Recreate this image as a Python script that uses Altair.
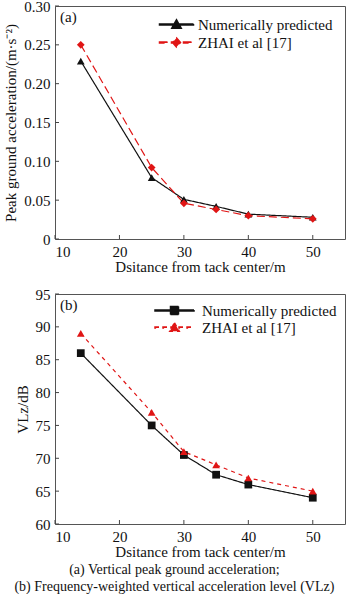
import altair as alt
import pandas as pd

dist = [14, 25, 30, 35, 40, 50]
pga_num = [0.229, 0.079, 0.051, 0.042, 0.032, 0.028]
pga_zhai = [0.250, 0.092, 0.046, 0.038, 0.030, 0.026]
vlz_num = [86, 75, 70.5, 67.5, 66, 64]
vlz_zhai = [89, 77, 71, 69, 67, 65]
series = ["Numerically predicted", "ZHAI et al [17]"]
x_ticks = [10, 20, 30, 40, 50]
pga_ticks = [0, 0.05, 0.10, 0.15, 0.20, 0.25, 0.30]
vlz_ticks = [60, 65, 70, 75, 80, 85, 90, 95]
caption = ["(a)  Vertical peak    ground    acceleration;",
           "(b)    Frequency-weighted vertical acceleration level (VLz)"]

FONT = "Liberation Serif"
COLORS = ["#111111", "#e01515"]
W = 290
UNIT = 5.0  # legend glyph: px per path unit (symbolSize 100)


def long_df(a, b):
    return pd.DataFrame({
        "dist": dist * 2,
        "val": a + b,
        "series": [series[0]] * len(dist) + [series[1]] * len(dist),
    })


def glyph(marker, half, dash=None, t=0.11):
    """Legend glyph: a line (as thin filled rectangles) plus a filled marker."""
    segs = []
    if dash is None:
        segs.append((-half, half))
    else:
        d, g = dash[0] / UNIT, dash[1] / UNIT
        x = -half
        while x < half:
            segs.append((x, min(x + d, half)))
            x += d + g
    p = " ".join(f"M{a:.2f},{-t} L{b:.2f},{-t} L{b:.2f},{t} L{a:.2f},{t} Z" for a, b in segs)
    return p + " " + marker


TRI = "M0,-0.95 L0.95,0.75 L-0.95,0.75 Z"
DIA = "M0,-0.9 L0.8,0 L0,0.9 L-0.8,0 Z"
SQR = "M-0.8,-0.8 L0.8,-0.8 L0.8,0.8 L-0.8,0.8 Z"


def panel(df, ydom, yticks, ytitle, yexpr, shapes, paths, dashes, letter,
          H, legx, legy, laboff, rowpad):
    xs = alt.Scale(domain=[10, 55], nice=False)
    ys = alt.Scale(domain=ydom, nice=False, zero=False)
    xaxis = alt.Axis(values=x_ticks, title="Dsitance from tack center/m",
                     ticks=False, tickSize=0, domain=False, grid=False,
                     labelPadding=5, titlePadding=0)
    yaxis = alt.Axis(values=yticks, title=ytitle, ticks=False, tickSize=0,
                     domain=False, grid=False, labelPadding=5, titlePadding=5,
                     labelExpr=yexpr)
    X = alt.X("dist:Q", scale=xs, axis=xaxis)
    Y = alt.Y("val:Q", scale=ys, axis=yaxis)
    cscale = alt.Scale(domain=series, range=COLORS)
    dscale = alt.Scale(domain=series, range=dashes)
    leg = alt.Legend(title=None, orient="none", legendX=legx, legendY=legy,
                     symbolSize=100, labelOffset=laboff,
                     labelFontSize=15, labelFont=FONT, labelColor="#111",
                     rowPadding=rowpad, padding=0)
    base = alt.Chart(df).encode(x=X, y=Y)
    lines = base.mark_line(strokeWidth=1.2).encode(
        color=alt.Color("series:N", scale=cscale, legend=leg),
        strokeDash=alt.StrokeDash("series:N", scale=dscale, legend=None),
    )
    pts = [
        base.transform_filter(alt.datum.series == s).mark_point(
            filled=True, opacity=1, size=60, shape=shp
        ).encode(color=alt.Color("series:N", scale=cscale, legend=leg))
        for s, shp in zip(series, shapes)
    ]
    legdf = pd.DataFrame({"series": series})
    legend_layer = alt.Chart(legdf).mark_point(filled=True, opacity=1, clip=True).encode(
        x=alt.value(-60), y=alt.value(-60),
        color=alt.Color("series:N", scale=cscale, legend=leg),
        shape=alt.Shape("series:N", scale=alt.Scale(domain=series, range=paths), legend=leg),
    )
    ytk = alt.Chart(pd.DataFrame({"val": yticks})).mark_rule(color="#444", strokeWidth=1).encode(
        y=Y, x=alt.value(0), x2=alt.value(4))
    xtk = alt.Chart(pd.DataFrame({"dist": x_ticks})).mark_rule(color="#444", strokeWidth=1).encode(
        x=X, y=alt.value(H), y2=alt.value(H - 4))
    label = alt.Chart(pd.DataFrame({"t": [letter]})).mark_text(
        align="left", baseline="middle", fontSize=15, font=FONT, color="#111"
    ).encode(text="t:N", x=alt.value(5), y=alt.value(11))
    return alt.layer(ytk, xtk, lines, *pts, legend_layer, label).properties(
        width=W, height=H)


top = panel(long_df(pga_num, pga_zhai), [0, 0.30], pga_ticks,
            "Peak ground acceleration/(m·s⁻²)",
            "datum.value == 0 ? '0' : format(datum.value, '.2f')",
            ["triangle-up", "diamond"],
            [glyph(TRI, 3.4), glyph(DIA, 3.4, [8, 4])],
            [[1, 0], [8, 4]], "(a)", 233, 114, 11, 14, 2)

bottom = panel(long_df(vlz_num, vlz_zhai), [60, 95], vlz_ticks,
               "VLᴢ/dB", "format(datum.value, 'd')",
               ["square", "triangle-up"],
               [glyph(SQR, 3.9), glyph(TRI, 3.9, [4, 4])],
               [[1, 0], [4, 4]], "(b)", 230, 112, 9, 20, 0)

chart = alt.vconcat(top, bottom, spacing=11).resolve_scale(
    color="independent", shape="independent", strokeDash="independent"
).resolve_legend(
    color="independent", shape="independent", strokeDash="independent"
).properties(
    padding={"left": 3, "top": -2, "right": 0, "bottom": 0},
    background="white",
    title=alt.TitleParams(text=caption, orient="bottom", anchor="middle",
                          fontSize=14, font=FONT, fontWeight="normal",
                          color="#111", lineHeight=17, offset=3),
).configure(font=FONT).configure_view(stroke="#555", strokeWidth=1).configure_axis(
    labelFont=FONT, titleFont=FONT, labelFontSize=15, titleFontSize=15,
    labelColor="#111", titleColor="#111", titleFontWeight="normal"
).configure_legend(
    labelFont=FONT, labelFontSize=15, labelColor="#111"
)

chart.save("out.html", embed_options={"renderer": "svg", "actions": False})
